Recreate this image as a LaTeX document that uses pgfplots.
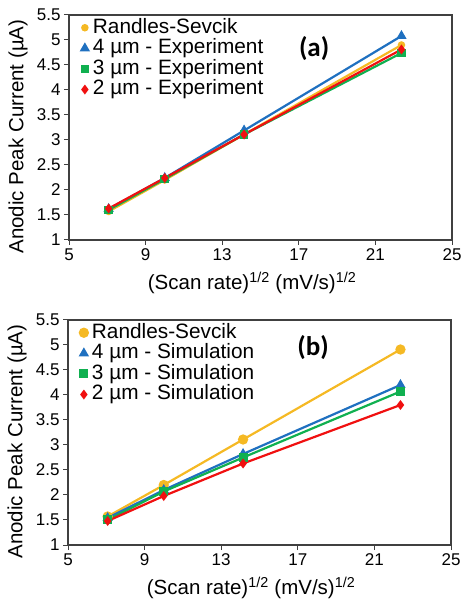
\documentclass[border=0pt]{standalone}
\usepackage{pgfplots}
\pgfplotsset{compat=1.18}
\usepackage{fontspec}
\setmainfont{Liberation Sans}
\newfontfamily\calib{Carlito}
\definecolor{cgold}{HTML}{F5B924}
\definecolor{cblue}{HTML}{1F70C0}
\definecolor{cgreen}{HTML}{10B050}
\definecolor{cred}{HTML}{F01010}
\definecolor{cframe}{HTML}{404040}

\pgfplotsset{
  panel/.style={
    scale only axis,
    width=383pt, height=225pt,
    xmin=5, xmax=25, ymin=1, ymax=5.5,
    xtick={5,9,13,17,21,25},
    ytick={1,1.5,2,2.5,3,3.5,4,4.5,5,5.5},
    /pgf/number format/assume math mode=true,
    tick label style={font=\fontsize{17}{20}\selectfont},
    axis line style={cframe, line width=1.2pt},
    tick style={cframe, line width=1pt},
    major tick length=5pt,
    tick align=outside,
    xtick pos=left, ytick pos=left,
    xlabel={(Scan rate)\textsuperscript{1/2} (mV/s)\textsuperscript{1/2}},
    ylabel={Anodic Peak Current (µA)},
    label style={font=\fontsize{20.5}{24}\selectfont},
    xlabel style={at={(axis description cs:0.478,-0.19)}, anchor=center},
    ylabel style={at={(axis description cs:-0.133,0.46)}, anchor=center},
    legend cell align=left,
    legend style={at={(axis description cs:0.025,0.99)}, anchor=north west,
      draw=none, fill=none, font=\fontsize{20.8}{24}\selectfont,
      row sep=0pt, inner sep=0pt,
      nodes={inner sep=1pt, text height=14.6pt, text depth=4pt}},
    legend image code/.code={\draw[#1] plot[only marks] coordinates {(5pt,0pt)};\path (0pt,0pt) (11pt,0pt);},
  }
}

\begin{document}
\begin{tikzpicture}
\useasboundingbox (0pt,0pt) rectangle (470pt,607pt);

% Panel (a)
\begin{axis}[panel, at={(69pt,367pt)}, anchor=south west]
\addplot[cgold, line width=2.2pt, mark=*, mark size=2.6pt, mark options={fill=cgold, draw=cgold}]
  coordinates {(7.071,1.57) (10,2.20) (14.142,3.11) (22.361,4.90)};
\addlegendentry{Randles-Sevcik}
\addplot[cblue, line width=2.2pt, mark=triangle*, mark size=3.8pt, mark options={fill=cblue, draw=cblue}]
  coordinates {(7.071,1.62) (10,2.24) (14.142,3.19) (22.361,5.08)};
\addlegendentry{4 µm - Experiment}
\addplot[cgreen, line width=2.2pt, mark=square*, mark size=3.2pt, mark options={fill=cgreen, draw=cgreen}]
  coordinates {(7.071,1.60) (10,2.22) (14.142,3.11) (22.361,4.74)};
\addlegendentry{3 µm - Experiment}
\addplot[cred, line width=2.2pt, mark=diamond*, mark size=3.2pt, mark options={fill=cred, draw=cred}]
  coordinates {(7.071,1.63) (10,2.24) (14.142,3.11) (22.361,4.81)};
\addlegendentry{2 µm - Experiment}
\node[font=\calib\bfseries\fontsize{27}{30}\selectfont] at (axis cs:17.8,4.83) {(a)};
\end{axis}

% Panel (b)
\begin{axis}[panel, at={(68pt,62pt)}, anchor=south west]
\addplot[cgold, line width=2.2pt, mark=*, mark size=4pt, mark options={fill=cgold, draw=cgold}]
  coordinates {(7.071,1.57) (10,2.20) (14.142,3.11) (22.361,4.91)};
\addlegendentry{Randles-Sevcik}
\addplot[cblue, line width=2.2pt, mark=triangle*, mark size=3.8pt, mark options={fill=cblue, draw=cblue}]
  coordinates {(7.071,1.54) (10,2.10) (14.142,2.82) (22.361,4.20)};
\addlegendentry{4 µm - Simulation}
\addplot[cgreen, line width=2.2pt, mark=square*, mark size=3.4pt, mark options={fill=cgreen, draw=cgreen}]
  coordinates {(7.071,1.50) (10,2.07) (14.142,2.75) (22.361,4.07)};
\addlegendentry{3 µm - Simulation}
\addplot[cred, line width=2.2pt, mark=diamond*, mark size=3.2pt, mark options={fill=cred, draw=cred}]
  coordinates {(7.071,1.48) (10,1.98) (14.142,2.63) (22.361,3.80)};
\addlegendentry{2 µm - Simulation}
\node[font=\calib\bfseries\fontsize{27}{30}\selectfont] at (axis cs:17.8,4.95) {(b)};
\end{axis}
\end{tikzpicture}
\end{document}
